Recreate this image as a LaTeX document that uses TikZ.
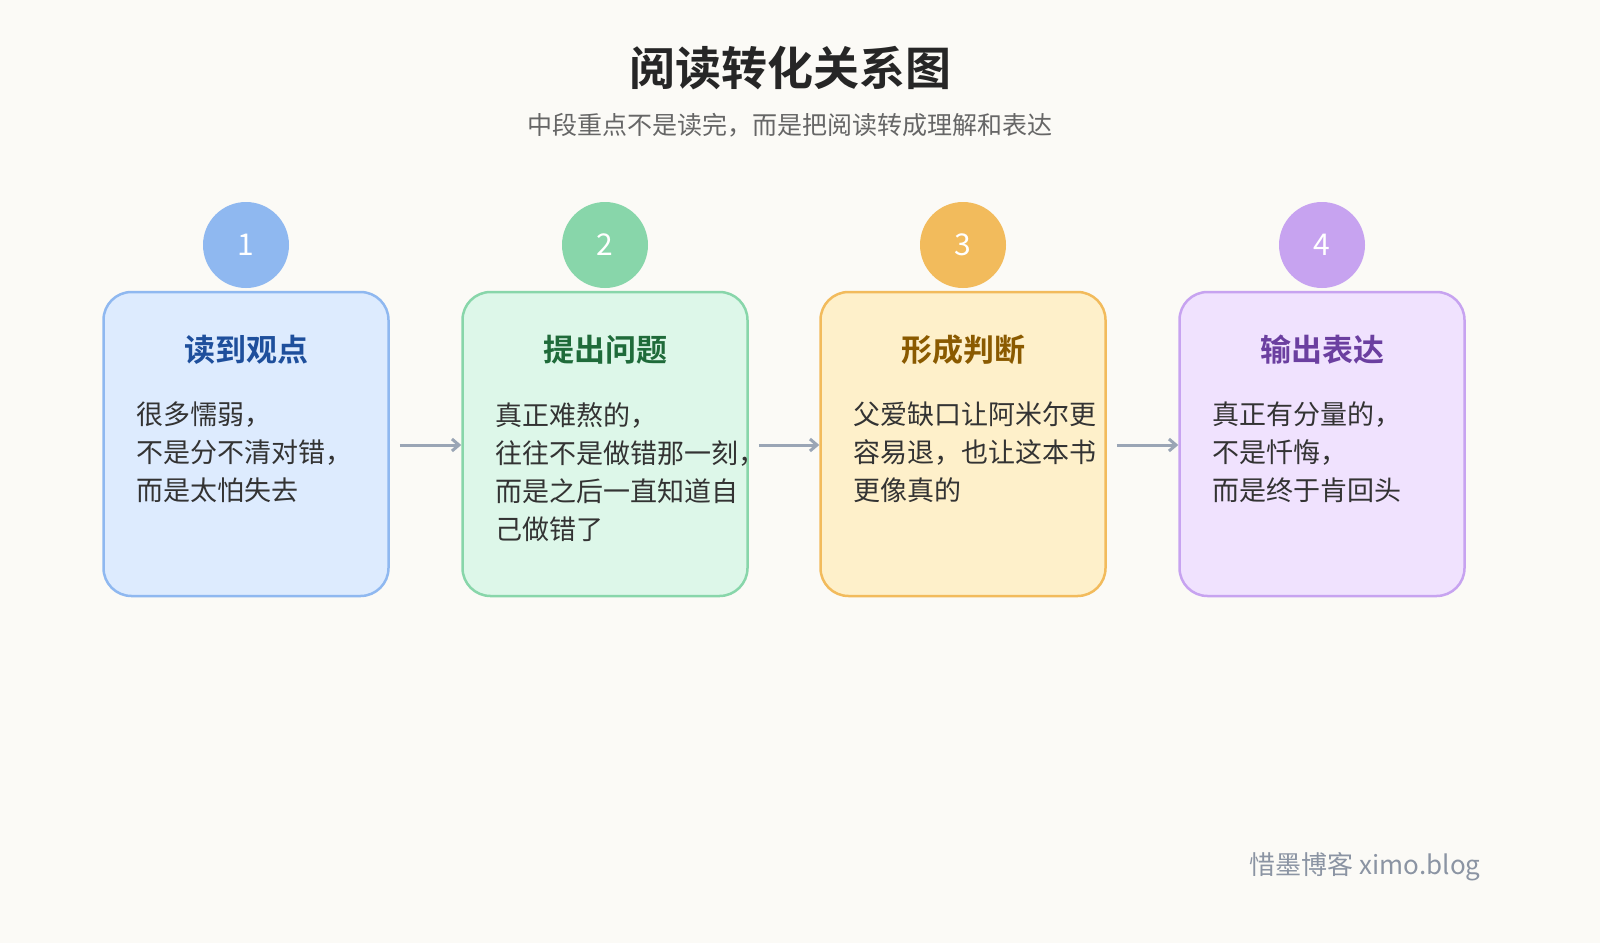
\documentclass[tikz,border=0pt]{standalone}
\usepackage{fontspec}
\setmainfont{Noto Sans CJK SC}
\newfontfamily\cjkb{Noto Sans CJK SC Bold}
\usetikzlibrary{arrows.meta}
\definecolor{bg}{HTML}{FBFAF6}
\definecolor{arr}{HTML}{9AA5B5}
\definecolor{fa}{HTML}{DDEBFE}\definecolor{ba}{HTML}{8FB8F0}\definecolor{ta}{HTML}{1E4F9C}
\definecolor{fb}{HTML}{DDF7E9}\definecolor{bb}{HTML}{88D6AA}\definecolor{tb}{HTML}{1F6B3A}
\definecolor{fc}{HTML}{FEF0CA}\definecolor{bc}{HTML}{F2BB5C}\definecolor{tc}{HTML}{8A5A00}
\definecolor{fd}{HTML}{F0E2FE}\definecolor{bd}{HTML}{C7A3F0}\definecolor{td}{HTML}{6B3FA0}
\tikzset{
 card/.style={draw=#1,line width=2.5pt,rounded corners=28pt,minimum width=285pt,minimum height=304pt,inner sep=0pt},
 badge/.style={circle,fill=#1,minimum size=86pt,inner sep=0pt,text=white,font=\fontsize{30}{30}\selectfont},
 ctitle/.style={text=#1,font=\cjkb\fontsize{31}{31}\selectfont},
 body/.style={anchor=north west,align=left,text=black!80,font=\fontsize{27}{38}\selectfont,inner sep=0pt},
 conn/.style={draw=arr,line width=3pt,-{Straight Barb[length=7pt,width=12pt]}}
}
\begin{document}
\begin{tikzpicture}[x=1pt,y=-1pt]
\useasboundingbox (0,0) rectangle (1600,943);
\clip (0,0) rectangle (1600,943);
\fill[bg] (0,0) rectangle (1600,943);
\node (title) at (790,68) {\cjkb\fontsize{46}{46}\selectfont\color{black!85}阅读转化关系图};
\node (sub) at (790,125) {\fontsize{25}{25}\selectfont\color{black!60}中段重点不是读完，而是把阅读转成理解和表达};
\foreach \i/\x/\f/\b/\t/\ti/\tx in {
 1/246/fa/ba/ta/读到观点/{很多懦弱，\\不是分不清对错，\\而是太怕失去},
 2/605/fb/bb/tb/提出问题/{真正难熬的，\\往往不是做错那一刻，\\而是之后一直知道自\\己做错了},
 3/963/fc/bc/tc/形成判断/{父爱缺口让阿米尔更\\容易退，也让这本书\\更像真的},
 4/1322/fd/bd/td/输出表达/{真正有分量的，\\不是忏悔，\\而是终于肯回头}}{
 \node[card=\b,fill=\f] (box\i) at (\x,444) {};
 \node[badge=\b] (num\i) at (\x,245) {\i};
 \node[ctitle=\t] (t\i) at (\x,350) {\ti};
 \node[body] (body\i) at (\x-110,402) {\tx};
}
\foreach \a/\b in {1/2,2/3,3/4}{
 \draw[conn] ([xshift=10pt,yshift=-1pt]box\a.east) -- ([yshift=-1pt]box\b.west);
}
\node[anchor=east,text=arr!90!black] (wm) at (1484,867) {\fontsize{26}{26}\selectfont 惜墨博客 ximo.blog};
\end{tikzpicture}
\end{document}
